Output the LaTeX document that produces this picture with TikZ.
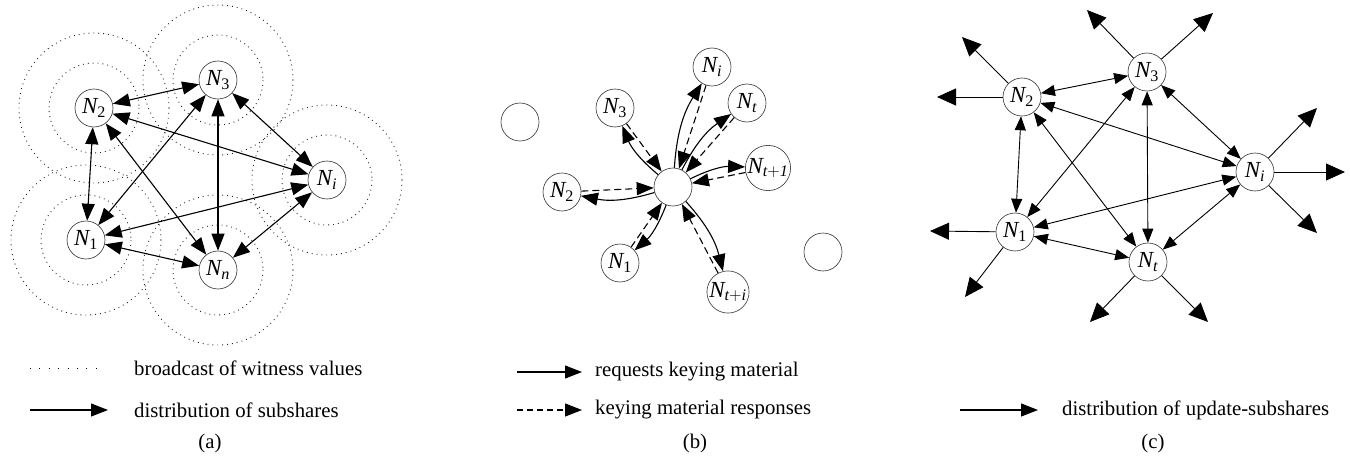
\documentclass[tikz,border=0pt]{standalone}
\usepackage{fontspec}
\setmainfont{Liberation Serif}
\usetikzlibrary{arrows.meta}
\newcommand{\Nd}[1]{\fontsize{23}{26}\selectfont$\mathit{N}_{#1}$}
\tikzset{%
  nd/.style      = {draw=black!80, line width=0.6pt, circle, inner sep=0pt, minimum size=38pt, fill=white}, % node
  reach/.style   = {draw=black!85, line width=0.9pt, dash pattern=on 0.9pt off 4pt}, % range
  link/.style    = {{Triangle[length=17pt,width=13pt]}-{Triangle[length=17pt,width=13pt]}, line width=1.1pt},
  req/.style     = {-{Triangle[length=17pt,width=13pt]}, line width=1.1pt, bend left=14},
  resp/.style    = {-{Triangle[length=17pt,width=13pt]}, line width=1.1pt, dash pattern=on 7pt off 4pt},
  upd/.style     = {{Triangle[length=14pt,width=11pt]}-{Triangle[length=14pt,width=11pt]}, line width=0.9pt},
  bcast/.style   = {-{Triangle[length=19pt,width=17pt]}, line width=0.9pt},
  legend/.style  = {anchor=west, inner sep=0pt}
}

\begin{document}
\begin{tikzpicture}[x=1pt, y=-1pt, font=\fontsize{20.8}{24}\selectfont]
\useasboundingbox (0,0) rectangle (1350,460);
% (a) ranges
\foreach \p in {(94,108),(218,80),(327,180),(86,240),(218,270)}{
  \draw[reach] \p circle (45);
  \draw[reach] \p circle (75);
}
\draw
	node at(94,108)[nd, name=aN2]{\Nd{\mathrm{2}}}
	node at(218,80)[nd, name=aN3]{\Nd{\mathrm{3}}}
	node at(327,180)[nd, name=aNi]{\Nd{\mathit{i}}}
	node at(86,240)[nd, name=aN1]{\Nd{\mathrm{1}}}
	node at(218,270)[nd, name=aNn]{\Nd{\mathit{n}}};
	\draw[link] (aN2) -- (aN3);
	\draw[link] (aN2) -- (aN1);
	\draw[link] (aN2) -- (aNi);
	\draw[link] (aN2) -- (aNn);
	\draw[link] (aN3) -- (aN1);
	\draw[link] (aN3) -- (aNn);
	\draw[link] (aN3) -- (aNi);
	\draw[link] (aNi) -- (aN1);
	\draw[link] (aNi) -- (aNn);
	\draw[link] (aN1) -- (aNn);

% (b)
\draw
	node at(673,187)[nd, name=bC]{}
	node at(712,67)[nd, name=bNi]{\Nd{\mathit{i}}}
	node at(615,108)[nd, name=bN3]{\Nd{\mathrm{3}}}
	node at(747,103)[nd, name=bNt]{\Nd{\mathit{t}}}
	node at(768,168)[nd, name=bNtl]{\Nd{\mathit{t+1}}}
	node at(562,192)[nd, name=bN2]{\Nd{\mathrm{2}}}
	node at(620,263)[nd, name=bN1]{\Nd{\mathrm{1}}}
	node at(728,292)[nd, name=bNti]{\Nd{\mathit{t+i}}}
	node at(520,122)[nd, name=bE1]{}
	node at(823,252)[nd, name=bE2]{};
	\draw[req] (bC) to (bNi);
	\draw[req] (bC) to (bN3);
	\draw[req] (bC) to (bNt);
	\draw[req] (bC) to (bNtl);
	\draw[req] (bC) to (bN2);
	\draw[req] (bC) to (bN1);
	\draw[req] (bC) to (bNti);
	\draw[resp] (bNi) -- (bC);
	\draw[resp] (bN3) -- (bC);
	\draw[resp] (bNt) -- (bC);
	\draw[resp] (bNtl) -- (bC);
	\draw[resp] (bN2) -- (bC);
	\draw[resp] (bN1) -- (bC);
	\draw[resp] (bNti) -- (bC);

% (c)
\draw
	node at(1147,72)[nd, name=cN3]{\Nd{\mathrm{3}}}
	node at(1022,97)[nd, name=cN2]{\Nd{\mathrm{2}}}
	node at(1255,172)[nd, name=cNi]{\Nd{\mathit{i}}}
	node at(1015,232)[nd, name=cN1]{\Nd{\mathrm{1}}}
	node at(1148,262)[nd, name=cNt]{\Nd{\mathit{t}}};
\coordinate (o31) at (1087,10);
\coordinate (o32) at (1213,13);
\coordinate (o21) at (962,37);
\coordinate (o22) at (937,97);
\coordinate (oi1) at (1317,108);
\coordinate (oi2) at (1345,172);
\coordinate (oi3) at (1317,233);
\coordinate (o11) at (930,231);
\coordinate (o12) at (965,297);
\coordinate (ot1) at (1090,322);
\coordinate (ot2) at (1208,322);
	\draw[upd] (cN2) -- (cN3);
	\draw[upd] (cN2) -- (cN1);
	\draw[upd] (cN2) -- (cNi);
	\draw[upd] (cN2) -- (cNt);
	\draw[upd] (cN3) -- (cN1);
	\draw[upd] (cN3) -- (cNt);
	\draw[upd] (cN3) -- (cNi);
	\draw[upd] (cNi) -- (cN1);
	\draw[upd] (cNi) -- (cNt);
	\draw[upd] (cN1) -- (cNt);
	\draw[bcast] (cN3) -- (o31);
	\draw[bcast] (cN3) -- (o32);
	\draw[bcast] (cN2) -- (o21);
	\draw[bcast] (cN2) -- (o22);
	\draw[bcast] (cNi) -- (oi1);
	\draw[bcast] (cNi) -- (oi2);
	\draw[bcast] (cNi) -- (oi3);
	\draw[bcast] (cN1) -- (o11);
	\draw[bcast] (cN1) -- (o12);
	\draw[bcast] (cNt) -- (ot1);
	\draw[bcast] (cNt) -- (ot2);

% legends
\coordinate (la1s) at (30,368);  \coordinate (la1e) at (104,368);
\coordinate (la2s) at (30,410);  \coordinate (la2e) at (108,410);
\draw[line width=0.9pt, dash pattern=on 0.9pt off 8.5pt] (la1s) -- (la1e);
\draw[-{Triangle[length=17pt,width=13pt]}, line width=1.1pt] (la2s) -- (la2e);
\node[legend, name=ta1] at (134,368) {broadcast of witness values};
\node[legend, name=ta2] at (134,410) {distribution of subshares};
\node[name=capa] at (210,443) {(a)};

\coordinate (lb1s) at (517,372); \coordinate (lb1e) at (582,372);
\coordinate (lb2s) at (517,410); \coordinate (lb2e) at (582,410);
\draw[-{Triangle[length=17pt,width=13pt]}, line width=1.1pt] (lb1s) -- (lb1e);
\draw[-{Triangle[length=17pt,width=13pt]}, line width=1.1pt, dash pattern=on 6pt off 4pt] (lb2s) -- (lb2e);
\node[legend, name=tb1] at (595,372) {requests keying material};
\node[legend, name=tb2] at (595,410) {keying material responses};
\node[name=capb] at (695,443) {(b)};

\coordinate (lc1s) at (960,410); \coordinate (lc1e) at (1038,410);
\draw[-{Triangle[length=17pt,width=13pt]}, line width=1.1pt] (lc1s) -- (lc1e);
\node[legend, name=tc1] at (1062,410) {distribution of update-subshares};
\node[name=capc] at (1153,443) {(c)};
\end{tikzpicture}
\end{document}
